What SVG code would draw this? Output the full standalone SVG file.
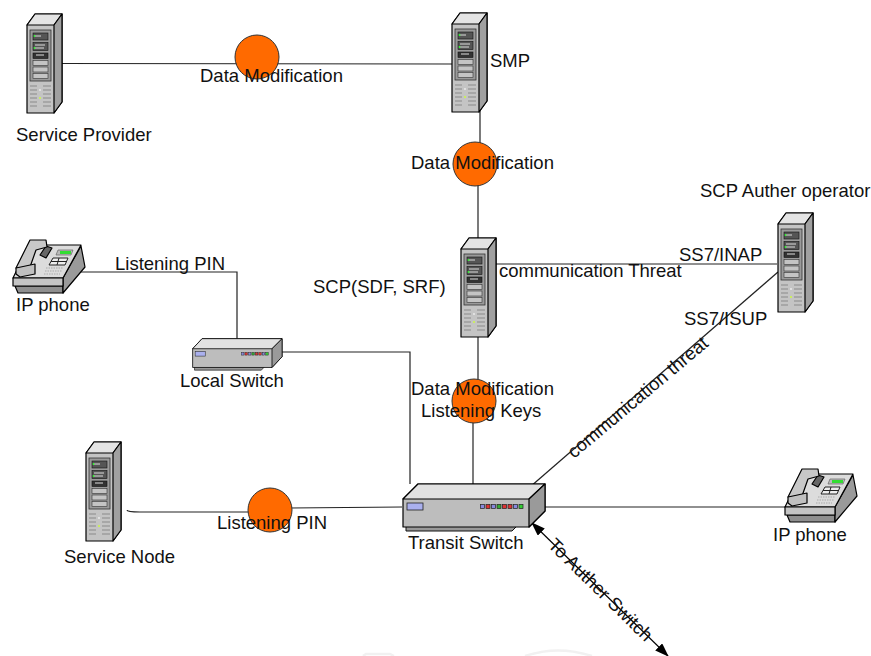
<svg xmlns="http://www.w3.org/2000/svg" xmlns:xlink="http://www.w3.org/1999/xlink" width="871" height="656" viewBox="0 0 871 656">
<style>
text{font-family:"Liberation Sans",Arial,sans-serif;font-size:18.500px;fill:#111}
.c{fill:none;stroke:#222;stroke-width:1.2}
.t{fill:#ff6a00;stroke:#333;stroke-width:1}
.o{stroke:#000;stroke-width:1.2;stroke-linejoin:round}
</style>
<defs>
<marker id="a" markerWidth="14" markerHeight="10" refX="13" refY="5" orient="auto-start-reverse" markerUnits="userSpaceOnUse"><path d="M0 0L14 5L0 10Z" fill="#000"/></marker>
<g id="srv">
<path class="o" d="M8 0H35V88L27 99H0V11Z" fill="#c4c4c4"/>
<path class="o" d="M0 11L8 0H35L27 11Z" fill="#e4e4e4"/>
<path class="o" d="M27 11L35 0V88L27 99Z" fill="#a0a0a0"/>
<rect x="3" y="16" width="21" height="51" fill="#9a9a9a" stroke="#333" stroke-width=".8"/>
<rect x="6" y="19" width="15" height="7" fill="#555" stroke="#111" stroke-width=".6"/>
<rect x="6" y="28.500" width="15" height="8" fill="#555" stroke="#111" stroke-width=".6"/>
<rect x="6" y="39" width="15" height="5.500" fill="#333" stroke="#111" stroke-width=".6"/>
<path d="M8 22h6M8 31h10M8 34h9M9 41h8" stroke="#ddd" stroke-width="1"/>
<rect x="6" y="46.500" width="15" height="5" fill="#c4c4c4" stroke="#333" stroke-width=".6"/>
<rect x="6" y="53" width="15" height="5" fill="#c4c4c4" stroke="#333" stroke-width=".6"/>
<rect x="6" y="59.500" width="15" height="5" fill="#c4c4c4" stroke="#333" stroke-width=".6"/>
<circle cx="7.500" cy="22" r=".9" fill="#3f3"/><circle cx="7.500" cy="34" r=".9" fill="#3f3"/><circle cx="13" cy="84" r=".9" fill="#cf3"/><circle cx="13" cy="76" r=".9" fill="#eee"/>
<path d="M3 72h7M3 76h7M3 80h7M3 84h7M3 88h7M3 92h7M16 72h8M16 76h8M16 80h8M16 84h8M16 88h8M16 92h8" stroke="#8a8a8a" stroke-width="1.200"/>
</g>
<g id="sw">
<path d="M4 40H118L110 48H4Z" fill="#999" stroke="#111"/>
<path class="o" d="M16 1H143V28L127 44H1V16Z" fill="#bdbdbd"/>
<path class="o" d="M1 16L16 1H143L127 16Z" fill="#e2e2e2"/>
<path class="o" d="M127 16L143 1V28L127 44Z" fill="#9a9a9a"/>
<rect x="5" y="20" width="16" height="7" fill="#aab0ee" stroke="#222" stroke-width=".8"/>
<g stroke="#222" stroke-width=".7"><rect x="78.500" y="21.500" width="4" height="4" fill="#88d"/><rect x="84" y="21.500" width="4" height="4" fill="#d33"/><rect x="89.500" y="21.500" width="4" height="4" fill="#88d"/><rect x="95" y="21.500" width="4" height="4" fill="#3a3"/><rect x="100.500" y="21.500" width="4" height="4" fill="#d33"/><rect x="106" y="21.500" width="4" height="4" fill="#d33"/><rect x="111.500" y="21.500" width="4" height="4" fill="#88d"/><rect x="117" y="21.500" width="4" height="4" fill="#3c3"/></g>
</g>
<g id="ph">
<path class="o" d="M2 47H50V54H5Z" fill="#8f8f8f"/>
<path class="o" d="M68 7L72 28L50 54V39Z" fill="#9a9a9a"/>
<path class="o" d="M0 39L16 6H68L50 39Z" fill="#dcdcdc"/>
<path class="o" d="M0 39H50V47H0Z" fill="#c4c4c4"/>
<path d="M45 11H60L58 16H43Z" fill="#bbb" stroke="#666" stroke-width=".7"/><rect x="47" y="12" width="11" height="3" fill="#3d3"/>
<path d="M40 19H55L52 26H36Z" fill="#eee" stroke="#222" stroke-width="1"/><path d="M38 22.500H54M46 19L44 26" stroke="#222" stroke-width="1"/>
<path d="M33 29H50M32 32H49M31 35H47" stroke="#aaa" stroke-width="1" stroke-dasharray="1.500 1"/>
<path class="o" d="M33 7L39 9L33 19L27 16Z" fill="#666" stroke-width="1"/>
<path class="o" d="M3 29L17 1H33L34 8L23 11L17 28Z" fill="#c8c8c8" stroke-width="1"/>
<path class="o" d="M3 29L22 25V35L7 38L3 35Z" fill="#c0c0c0" stroke-width="1"/>
</g>
</defs>
<g id="watermark" fill="none" stroke="#f1f1f1" stroke-width="2.500"><path d="M363 656L366 654H390L394 656"/><path d="M525 656Q558 645 592 656"/></g>
<g id="connectors">
<path class="c" d="M58 63.500L452 64"/>
<path class="c" d="M480 108V145"/>
<path class="c" d="M478 185V240"/>
<path class="c" d="M492 264H777"/>
<path class="c" d="M78 272H237V343"/>
<path class="c" d="M272 352H410V484"/>
<path class="c" d="M478 335V382"/>
<path class="c" d="M473 420V491"/>
<path class="c" d="M127 510Q127 512 140 512H250M290 508L402 507"/>
<path class="c" d="M535 507H785"/>
<path class="c" d="M530 487L778 272"/>
<path d="M532 523L668 656" fill="none" stroke="#000" stroke-width="1.200" marker-start="url(#a)" marker-end="url(#a)"/>
</g>
<g id="threat-1"><circle class="t" cx="257" cy="57" r="22"/></g>
<g id="threat-2"><circle class="t" cx="475" cy="164" r="22"/></g>
<g id="threat-3"><circle class="t" cx="474" cy="401" r="22"/></g>
<g id="threat-4"><circle class="t" cx="270" cy="510" r="22"/></g>
<g id="service-provider"><use xlink:href="#srv" href="#srv" x="27" y="14"/><text x="16" y="141">Service Provider</text></g>
<g id="smp"><use xlink:href="#srv" href="#srv" x="452" y="13"/><text x="490" y="67">SMP</text></g>
<g id="scp"><use xlink:href="#srv" href="#srv" x="461" y="238"/><text x="313" y="293">SCP(SDF, SRF)</text></g>
<g id="scp-auther"><use xlink:href="#srv" href="#srv" x="778" y="213"/><text x="700" y="197">SCP Auther operator</text></g>
<g id="service-node"><use xlink:href="#srv" href="#srv" x="86" y="442"/><text x="64" y="563">Service Node</text></g>
<g id="ip-phone-1"><use xlink:href="#ph" href="#ph" x="13" y="239"/><text x="16" y="311">IP phone</text></g>
<g id="ip-phone-2"><use xlink:href="#ph" href="#ph" x="785" y="468"/><text x="773" y="541">IP phone</text></g>
<g id="local-switch"><use xlink:href="#sw" transform="translate(192 338) scale(.63 .67)"/><text x="180" y="387">Local Switch</text></g>
<g id="transit-switch"><use xlink:href="#sw" href="#sw" x="402" y="483"/><text x="408" y="549">Transit Switch</text></g>
<g id="labels">
<text x="200" y="82">Data Modification</text>
<text x="411" y="169">Data Modification</text>
<text x="679" y="261">SS7/INAP</text>
<text x="499" y="277">communication Threat</text>
<text x="115" y="270">Listening PIN</text>
<text x="684" y="325">SS7/ISUP</text>
<text x="411" y="395">Data Modification</text>
<text x="421" y="417">Listening Keys</text>
<text x="217" y="529">Listening PIN</text>
<text transform="translate(574 459) rotate(-40)">communication threat</text>
<text transform="translate(547 546) rotate(44.500)">To Auther Switch</text>
</g>
</svg>
